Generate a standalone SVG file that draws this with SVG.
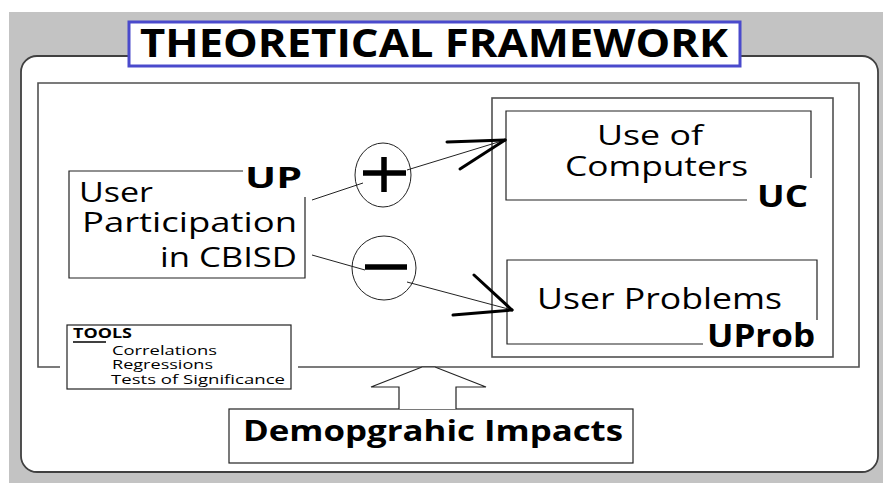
<svg xmlns="http://www.w3.org/2000/svg" width="883" height="483" viewBox="0 0 883 483">
<style>
.frame{fill:none;stroke:#505050;stroke-width:1.6}
.box{fill:none;stroke:#222;stroke-width:1.2}
.t{font-family:"Open Sans","Liberation Sans",sans-serif;fill:#000}
.b{font-family:"Open Sans","Liberation Sans",sans-serif;font-weight:bold;fill:#000}
.thin{stroke:#222;stroke-width:1;fill:none}
.head{stroke:#000;stroke-width:3;stroke-linecap:round;fill:none}
.sign{stroke:#000;stroke-width:5.5;fill:none}
</style>
<rect x="0" y="0" width="883" height="483" fill="#ffffff"/>
<rect x="9" y="12" width="874" height="471" fill="#c3c3c3"/>
<rect x="21" y="56" width="857" height="416" rx="16" ry="16" fill="#ffffff" stroke="#404040" stroke-width="1.8"/>
<g id="title">
<rect x="129" y="22" width="611" height="44" fill="#ffffff" stroke="#4a4acc" stroke-width="3"/>
<text class="b" x="140" y="57" font-size="39" textLength="588" lengthAdjust="spacingAndGlyphs" font-family="Liberation Sans">THEORETICAL FRAMEWORK</text>
</g>
<g id="frame">
<polyline class="frame" points="60,367 38,367 38,83 859,83 859,367 298,367"/>
<rect class="frame" x="492" y="98" width="341" height="259"/>
</g>
<g id="UP">
<polyline class="box" points="243,171 69,171 69,278 305,278 305,197"/>
<text class="b" x="245" y="188" font-size="29" textLength="57" lengthAdjust="spacingAndGlyphs">UP</text>
<text class="t" x="79" y="202" font-size="28" textLength="74" lengthAdjust="spacingAndGlyphs">User</text>
<text class="t" x="82" y="232" font-size="28" textLength="215" lengthAdjust="spacingAndGlyphs">Participation</text>
<text class="t" x="160" y="267" font-size="28" textLength="137" lengthAdjust="spacingAndGlyphs">in CBISD</text>
</g>
<g id="UC">
<polyline class="box" points="747,200 506,200 506,111 811,111 811,178"/>
<text class="t" x="597" y="145" font-size="28" textLength="106" lengthAdjust="spacingAndGlyphs">Use of</text>
<text class="t" x="565" y="176" font-size="28" textLength="183" lengthAdjust="spacingAndGlyphs">Computers</text>
<text class="b" x="757" y="207" font-size="31" textLength="51" lengthAdjust="spacingAndGlyphs">UC</text>
</g>
<g id="UProb">
<polyline class="box" points="703,344 507,344 507,260 817,260 817,320"/>
<text class="t" x="537" y="309" font-size="30" textLength="245" lengthAdjust="spacingAndGlyphs">User Problems</text>
<text class="b" x="707" y="347" font-size="32" textLength="108" lengthAdjust="spacingAndGlyphs">UProb</text>
</g>
<g id="plus">
<ellipse class="thin" cx="383" cy="175" rx="28" ry="32"/>
<line class="sign" x1="363" y1="173" x2="406" y2="173"/>
<line class="sign" x1="384" y1="157" x2="384" y2="192"/>
</g>
<g id="minus">
<ellipse class="thin" cx="384" cy="268" rx="32" ry="32"/>
<line class="sign" x1="365" y1="267" x2="407" y2="267" stroke-width="6"/>
</g>
<g id="tools">
<rect class="box" x="67" y="325" width="224" height="64" fill="#ffffff"/>
<text class="b" x="73" y="338" font-size="13.5" textLength="59" lengthAdjust="spacingAndGlyphs">TOOLS</text>
<line x1="73" y1="342" x2="106" y2="342" stroke="#000" stroke-width="1.4"/>
<text class="t" x="112" y="355" font-size="13" textLength="105" lengthAdjust="spacingAndGlyphs">Correlations</text>
<text class="t" x="112" y="369" font-size="13" textLength="101" lengthAdjust="spacingAndGlyphs">Regressions</text>
<text class="t" x="111" y="384" font-size="13" textLength="174" lengthAdjust="spacingAndGlyphs">Tests of Significance</text>
</g>
<g id="demographic">
<rect class="box" x="229" y="409" width="404" height="54" fill="#ffffff"/>
<text class="b" x="243" y="441" font-size="29" textLength="380" lengthAdjust="spacingAndGlyphs">Demopgrahic Impacts</text>
</g>
<g id="connectors">
<line class="thin" x1="312" y1="200" x2="363" y2="183"/>
<line class="thin" x1="407" y1="170" x2="505" y2="140"/>
<line class="head" x1="447" y1="142" x2="505" y2="140"/>
<line class="head" x1="460" y1="169" x2="505" y2="140"/>
<line class="thin" x1="312" y1="255" x2="365" y2="270"/>
<line class="thin" x1="407" y1="282" x2="512" y2="310"/>
<line class="head" x1="474" y1="275" x2="512" y2="310"/>
<line class="head" x1="453" y1="315" x2="512" y2="310"/>
<polyline fill="#ffffff" stroke="#222" stroke-width="1.2" points="399,409 399,387 371,387 422,367 435,367 486,387 456,387 456,409"/>
</g>
</svg>
